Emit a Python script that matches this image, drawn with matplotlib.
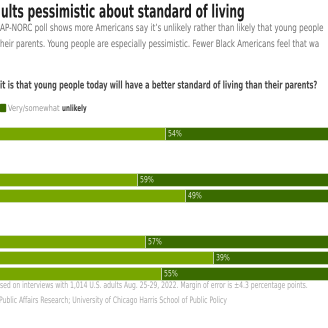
import matplotlib
matplotlib.use("Agg")
import matplotlib.pyplot as plt
from matplotlib import patheffects
from matplotlib.text import Text
from matplotlib.transforms import Affine2D, Bbox

W = H = 328

# poll results, % saying very/somewhat likely vs unlikely
likely = [45, 38, 50, 40, 57, 44]
unlikely = [54, 59, 49, 57, 39, 55]
group_sizes = [1, 2, 3]

title = "ults pessimistic about standard of living"
subtitle = ["AP-NORC poll shows more Americans say it\u2019s unlikely rather than likely that young people",
            "heir parents. Young people are especially pessimistic. Fewer Black Americans feel that wa"]
question = "it is that young people today will have a better standard of living than their parents?"
footnote = ["sed on interviews with 1,014 U.S. adults Aug. 25-29, 2022. Margin of error is \u00b14.3 percentage points.",
            "Public Affairs Research; University of Chicago Harris School of Public Policy"]

LIGHT = "#78a600"
DARK = "#3a6b00"


class Squeeze(patheffects.AbstractPathEffect):
    """Narrow the glyphs horizontally, keeping the text anchor fixed."""

    def __init__(self, sx):
        super().__init__()
        self.sx = sx

    def draw_path(self, renderer, gc, tpath, affine, rgbFace=None):
        renderer.draw_path(gc, tpath, Affine2D().scale(self.sx, 1) + affine, rgbFace)


class NarrowText(Text):
    """Left-anchored text drawn narrower by a factor sx."""

    def __init__(self, *args, sx=1.0, **kwargs):
        super().__init__(*args, **kwargs)
        self.set_squeeze(sx)

    def set_squeeze(self, sx):
        self.sx = sx
        self.set_path_effects([Squeeze(sx)])

    def get_window_extent(self, renderer=None, dpi=None):
        bb = super().get_window_extent(renderer, dpi)
        return Bbox.from_extents(bb.x0, bb.y0, bb.x0 + bb.width * self.sx, bb.y1)


def fx(x):
    return x / W


def fy(y):
    return 1 - y / H


fig = plt.figure(figsize=(W / 100, H / 100), dpi=100)
renderer = fig.canvas.get_renderer()


def label(x0, x1, y, s, size, **kw):
    # text from x0 to x1 (pixels), baseline at y
    t = NarrowText(fx(x0), fy(y), s, fontsize=size, va="baseline", ha="left",
                   fontstretch="condensed", transform=fig.transFigure, **kw)
    fig.add_artist(t)
    w = t.get_window_extent(renderer).width
    t.set_squeeze((x1 - x0) / w)
    return t


# rows: 16 px pitch, groups separated by a larger gap
rows = []
pos = 0.0
for n in group_sizes:
    for i in range(n):
        rows.append(pos)
        pos += 1
    pos += 1.875

ax = fig.add_axes([0, 0, 1, 1])
ax.set_xlim(3.75, 85.75)
ax.set_ylim((H - 133.5) / 16, -133.5 / 16)
ax.axis("off")

ax.barh(rows, likely, height=0.8, color=LIGHT, edgecolor="#d5e2c6", linewidth=0.5)
ax.barh(rows, unlikely, left=likely, height=0.8, color=DARK, edgecolor="#d5e2c6", linewidth=0.5)
for r, l, u in zip(rows, likely, unlikely):
    ax.add_artist(NarrowText(l + 0.75, r + 0.02, f"{u}%", color="#e2ecd6", fontsize=6.2,
                             va="center", ha="left", fontstretch="condensed",
                             transform=ax.transData, sx=0.8))

label(1, 245, 17.5, title, 13, fontweight="bold", color="#1e1e1e")
label(0, 326, 31, subtitle[0], 7.2, color="#707070")
label(0, 322, 47, subtitle[1], 7.2, color="#707070")
label(0, 315, 88.5, question, 7.6, fontweight="bold", color="#484848")

# legend entry
fig.patches.append(plt.Rectangle((fx(0), fy(110.5)), fx(5), 7 / H, transform=fig.transFigure,
                                 color=DARK))
label(8, 60, 111, "Very/somewhat", 6.2, color="#999999")
label(62, 87, 111, "unlikely", 6.2, fontweight="bold", color="#3c3c3c")

label(0, 307, 288, footnote[0], 6.4, color="#a8a8a8")
label(-1, 228, 303, footnote[1], 6.4, color="#a8a8a8")

fig.savefig("out.png", dpi=100)
